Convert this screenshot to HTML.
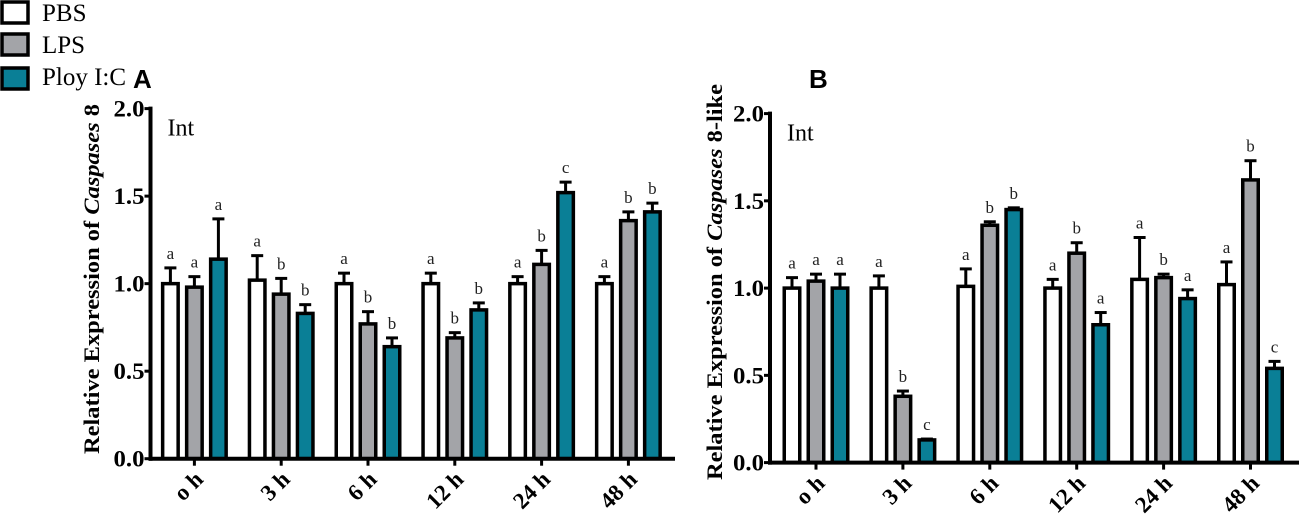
<!DOCTYPE html>
<html><head><meta charset="utf-8"><style>
html,body{margin:0;padding:0;background:#fff;}
svg{display:block;}
svg text{font-family:"Liberation Serif","DejaVu Serif",serif;}
svg text.sans{font-family:"Liberation Sans","DejaVu Sans",sans-serif;}
</style></head><body>
<svg id="chart" width="1299" height="524" viewBox="0 0 1299 524">
  <g>
    <g><rect x="2" y="2" width="26" height="21" fill="#fff" stroke="#000" stroke-width="3.5"/><text x="42" y="21" font-size="25" font-family="Liberation Serif, serif">PBS</text></g>
    <g><rect x="2" y="34" width="26" height="21" fill="#a3a4a8" stroke="#000" stroke-width="3.5"/><text x="42" y="53" font-size="25" font-family="Liberation Serif, serif">LPS</text></g>
    <g><rect x="2" y="68" width="26" height="21" fill="#0a7f96" stroke="#000" stroke-width="3.5"/><text x="42" y="85" font-size="25" font-family="Liberation Serif, serif">Ploy I:C</text></g>
  </g>
  <text class="sans" x="133" y="88" font-weight="bold" font-size="26">A</text>
  <text class="sans" x="809" y="88" font-weight="bold" font-size="26">B</text>
  <g id="panelA"></g>
  <g id="panelB"></g>
</svg>
<script>
const categories = ["o h","3 h","6 h","12 h","24 h","48 h"];
const yTicks = [0,0.5,1.0,1.5,2.0];
const yTickLabels = ["0.0","0.5","1.0","1.5","2.0"];
const seriesNames = ["PBS","LPS","Ploy I:C"];
const colors = ["#ffffff","#a3a4a8","#0a7f96"];
const aPBS = [1.0,1.02,1.0,1.0,1.0,1.0];
const aPBSErr = [0.09,0.14,0.06,0.06,0.04,0.04];
const aLPS = [0.98,0.94,0.77,0.69,1.11,1.36];
const aLPSErr = [0.06,0.09,0.07,0.03,0.08,0.05];
const aPoly = [1.14,0.83,0.64,0.85,1.52,1.41];
const aPolyErr = [0.23,0.05,0.05,0.04,0.06,0.05];
const aLetters = [["a","a","a","a","a","a"],["a","b","b","b","b","b"],["a","b","b","b","c","b"]];
const bPBS = [1.0,1.0,1.01,1.0,1.05,1.02];
const bPBSErr = [0.06,0.07,0.10,0.05,0.24,0.13];
const bLPS = [1.04,0.38,1.36,1.2,1.06,1.62];
const bLPSErr = [0.04,0.03,0.02,0.06,0.02,0.11];
const bPoly = [1.0,0.13,1.45,0.79,0.94,0.54];
const bPolyErr = [0.08,0.005,0.01,0.07,0.05,0.04];
const bLetters = [["a","a","a","a","a","a"],["a","b","b","b","b","b"],["a","c","b","a","a","c"]];

const NS="http://www.w3.org/2000/svg";
const SERIF="Liberation Serif, DejaVu Serif, serif";
function mk(tag,attrs,parent){const e=document.createElementNS(NS,tag);for(const k in attrs)e.setAttribute(k,attrs[k]);parent.appendChild(e);return e;}

function drawPanel(g,cfg){
  const y=v=>cfg.y0-v*(cfg.y0-cfg.y2)/2;
  const x=i=>cfg.x0+i*cfg.step;
  const vals=[cfg.s0,cfg.s1,cfg.s2], errs=[cfg.e0,cfg.e1,cfg.e2];
  for(let s=0;s<3;s++){
    for(let i=0;i<categories.length;i++){
      const cx=x(i)+(s-1)*24, top=y(vals[s][i]), et=y(vals[s][i]+errs[s][i]);
      const eb=mk('line',{x1:cx,x2:cx,y1:top,y2:et,stroke:'#000','stroke-width':3},g);
      
      
      const cap=mk('line',{x1:cx-6,x2:cx+6,y1:et,y2:et,stroke:'#000','stroke-width':3},g);
      
      
      const r=mk('rect',{x:cx-7.75,y:top,width:15.5,height:cfg.y0-top,fill:colors[s],stroke:'#000','stroke-width':3.5},g);
      
      
      const t=mk('text',{x:cx,y:et-9,'font-size':17,'text-anchor':'middle',fill:'#222','font-family':SERIF},g);
      t.textContent=cfg.letters[s][i];
      
      
    }
  }
  const ya=mk('line',{x1:cfg.ax,x2:cfg.ax,y1:y(2)-2,y2:cfg.y0+2,stroke:'#000','stroke-width':4},g);
  
  
  const xa=mk('line',{x1:cfg.ax-2,x2:cfg.xend,y1:cfg.y0,y2:cfg.y0,stroke:'#000','stroke-width':4},g);
  
  
  yTicks.forEach((v,k)=>{
    const tk=mk('line',{x1:cfg.ax-6,x2:cfg.ax,y1:y(v),y2:y(v),stroke:'#000','stroke-width':3},g);
    
    
    const t=mk('text',{x:cfg.ax-6,y:y(v)+8,'font-size':23,'font-weight':'bold','text-anchor':'end','font-family':SERIF,textLength:31,lengthAdjust:'spacingAndGlyphs'},g);
    t.textContent=yTickLabels[k];
    
    
  });
  categories.forEach((c,i)=>{
    const tk=mk('line',{x1:x(i),x2:x(i),y1:cfg.y0,y2:cfg.y0+7,stroke:'#000','stroke-width':3},g);
    
    
    const px=x(i)+10, py=cfg.y0+22;
    const t=mk('text',{x:px,y:py,'font-size':23,'font-weight':'bold','text-anchor':'end','font-family':SERIF,transform:`rotate(-45 ${px} ${py})`},g);
    t.textContent=c;
    
    
  });
  const it=mk('text',{x:cfg.ax+17,y:y(2)+27,'font-size':24,'font-family':SERIF},g);
  it.textContent='Int';
  
  
  const tt=mk('text',{x:cfg.tx,y:cfg.ty,'font-size':22,'font-weight':'bold','text-anchor':'middle','font-family':SERIF,textLength:cfg.tl,lengthAdjust:'spacingAndGlyphs',transform:`rotate(-90 ${cfg.tx} ${cfg.ty})`},g);
  
  
  tt.appendChild(document.createTextNode('Relative Expression of '));
  const ts=mk('tspan',{'font-style':'italic'},tt); ts.textContent='Caspases';
  tt.appendChild(document.createTextNode(' 8'+cfg.suffix));
}
drawPanel(document.getElementById('panelA'),{ax:150.5,x0:194.4,step:86.8,y0:458.7,y2:108.6,xend:675,s0:aPBS,s1:aLPS,s2:aPoly,e0:aPBSErr,e1:aLPSErr,e2:aPolyErr,letters:aLetters,tx:99,ty:279,tl:350,suffix:''});
drawPanel(document.getElementById('panelB'),{ax:770,x0:816,step:86.9,y0:462.6,y2:113.6,xend:1299,s0:bPBS,s1:bLPS,s2:bPoly,e0:bPBSErr,e1:bLPSErr,e2:bPolyErr,letters:bLetters,tx:722,ty:282,tl:396,suffix:'-like'});
</script>
</body></html>
